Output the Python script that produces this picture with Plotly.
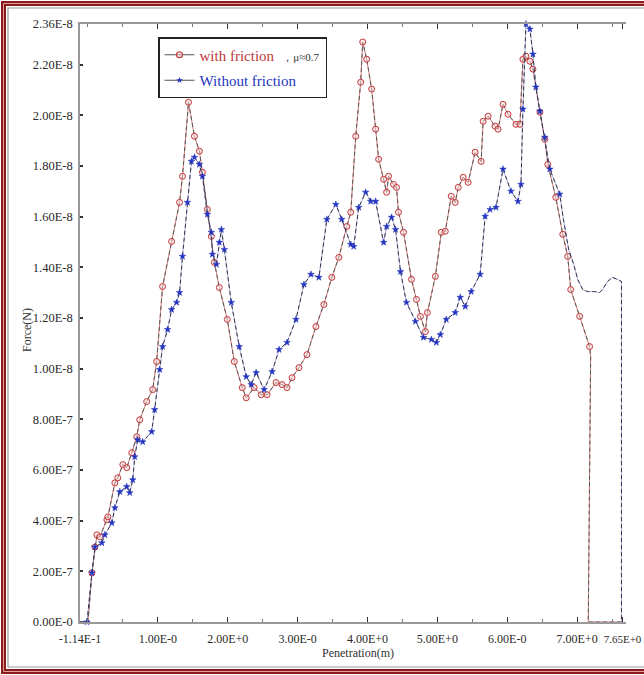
import plotly.graph_objects as go

# Penetration (m)
fric_x = [-0.114, 0.000, 0.057, 0.100, 0.128, 0.171, 0.271, 0.285, 0.385, 0.427, 0.499, 0.555, 0.627,
          0.698, 0.741, 0.840, 0.926, 0.983, 1.068, 1.197, 1.311, 1.353, 1.439, 1.524, 1.595, 1.638,
          1.709, 1.766, 1.809, 1.880, 1.994, 2.094, 2.208, 2.265, 2.379, 2.479, 2.564, 2.692, 2.778,
          2.849, 2.920, 3.020, 3.134, 3.262, 3.376, 3.490, 3.590, 3.704, 3.761, 3.832, 3.903, 3.932,
          3.989, 4.060, 4.117, 4.160, 4.231, 4.274, 4.302, 4.373, 4.416, 4.444, 4.516, 4.630, 4.701,
          4.758, 4.829, 4.858, 4.972, 5.057, 5.114, 5.199, 5.256, 5.299, 5.370, 5.441, 5.541, 5.627,
          5.655, 5.727, 5.826, 5.869, 5.940, 6.011, 6.125, 6.182, 6.225, 6.268, 6.325, 6.368, 6.468,
          6.538, 6.581, 6.695, 6.795, 6.866, 6.909, 7.037, 7.179, 7.194, 7.160, 7.650]
# Force (x1E-9 N)
fric_y = [0, 0, 1.94, 2.96, 3.44, 3.36, 4.03, 4.15, 5.49, 5.69, 6.21, 6.09, 6.68,
          7.31, 7.98, 8.70, 9.17, 10.28, 13.24, 15.02, 16.56, 17.59, 20.51, 19.17, 18.58, 17.75,
          16.28, 15.22, 14.19, 13.20, 11.94, 10.28, 9.25, 8.85, 9.25, 8.97, 8.97, 9.45, 9.37,
          9.25, 9.64, 10.04, 10.55, 11.66, 12.53, 13.60, 14.39, 15.61, 16.17, 19.17, 21.30, 22.89,
          22.21, 21.03, 19.45, 18.26, 17.47, 16.96, 17.59, 17.27, 17.15, 16.17, 15.38, 13.52, 12.73,
          12.06, 11.46, 12.21, 13.64, 15.38, 15.42, 16.80, 16.56, 17.15, 17.55, 17.35, 18.54, 18.18,
          19.76, 19.96, 19.57, 19.45, 20.43, 20.04, 19.64, 19.64, 22.21, 22.33, 22.13, 21.82, 20.12,
          19.05, 18.06, 16.76, 15.30, 14.43, 13.12, 12.06, 10.87, 10.47, 0, 0]

nofric_x = [-0.114, -0.014, 0.057, 0.100, 0.199, 0.242, 0.342, 0.385, 0.456, 0.555, 0.598, 0.641,
            0.669, 0.712, 0.783, 0.912, 0.954, 1.026, 1.068, 1.140, 1.197, 1.268, 1.311, 1.353,
            1.424, 1.481, 1.524, 1.595, 1.638, 1.709, 1.766, 1.781, 1.838, 1.880, 1.909, 1.952,
            2.051, 2.165, 2.265, 2.336, 2.407, 2.521, 2.635, 2.735, 2.849, 2.977, 3.091, 3.191,
            3.305, 3.419, 3.547, 3.632, 3.761, 3.803, 3.875, 3.974, 4.046, 4.117, 4.231, 4.274,
            4.345, 4.402, 4.473, 4.558, 4.687, 4.801, 4.915, 4.986, 5.043, 5.128, 5.256, 5.328,
            5.399, 5.484, 5.613, 5.684, 5.755, 5.840, 5.940, 6.054, 6.154, 6.197, 6.225, 6.268,
            6.325, 6.368, 6.410, 6.467, 6.538, 6.610, 6.752, 6.809, 6.880, 6.952, 7.009, 7.080,
            7.151, 7.251, 7.322, 7.365, 7.436, 7.507, 7.578, 7.635, 7.635]
nofric_y = [0, 0, 1.94, 2.96, 3.12, 3.44, 3.91, 4.51, 5.14, 5.34, 5.10, 5.61,
            6.52, 7.19, 7.11, 7.51, 8.38, 9.96, 10.87, 11.54, 12.33, 12.61, 13.00, 14.43,
            16.56, 18.18, 18.34, 18.06, 17.59, 16.09, 15.38, 14.51, 14.11, 14.98, 15.49, 14.70,
            12.61, 10.87, 9.68, 9.37, 9.84, 9.17, 9.88, 10.75, 11.03, 11.94, 13.32, 13.72,
            13.60, 15.89, 16.48, 15.89, 14.90, 14.82, 16.36, 16.96, 16.60, 16.60, 14.98, 15.61,
            15.97, 15.49, 13.83, 12.61, 11.86, 11.23, 11.15, 11.03, 11.34, 11.94, 12.21, 12.81,
            12.45, 13.04, 13.72, 16.01, 16.28, 16.36, 17.87, 17.00, 16.60, 17.27, 20.24, 23.60,
            23.40, 22.41, 21.11, 20.16, 19.13, 17.87, 16.88, 15.81, 14.70, 14.11, 13.52, 13.12,
            13.04, 13.04, 13.00, 13.12, 13.44, 13.60, 13.52, 13.44, 0]

x_tickvals = [-0.114, 1, 2, 3, 4, 5, 6, 7, 7.65]
x_ticktext = ["-1.14E-1", "1.00E-0", "2.00E+0", "3.00E-0", "4.00E+0", "5.00E+0", "6.00E-0",
              "7.00E+0", "<span style='font-size:11px'>7.65E+0</span>"]
y_tickvals = [0, 2, 4, 6, 8, 10, 12, 14, 16, 18, 20, 22, 23.6]
y_ticktext = ["0.00E-0", "2.00E-7", "4.00E-7", "6.00E-7", "8.00E-7", "1.00E-8", "1.20E-8",
              "1.40E-8", "1.60E-8", "1.80E-8", "2.00E-8", "2.20E-8", "2.36E-8"]

W, H = 644, 675
L, R, T, B = 80, 18, 24, 53
PW, PH = W - L - R, H - T - B


def px(xp):
    return (xp - L) / PW


def py(yp):
    return (H - B - yp) / PH


SERIF = "Liberation Serif, Times New Roman, serif"
RED = "#c0393b"
BLUE = "#2233c0"

fig = go.Figure()

# with friction
fig.add_trace(go.Scatter(x=fric_x, y=fric_y, mode="lines", showlegend=False,
                         line=dict(color="rgba(200,90,90,0.8)", width=1), cliponaxis=False))
fig.add_trace(go.Scatter(x=fric_x, y=fric_y, mode="lines", showlegend=False,
                         line=dict(color="#555555", width=1, dash="4px,3px"), cliponaxis=False))
fig.add_trace(go.Scatter(x=fric_x[2:-3], y=fric_y[2:-3], mode="markers", showlegend=False,
                         marker=dict(symbol="circle", size=6, color="rgba(245,210,210,0.5)",
                                     line=dict(color=RED, width=1)), cliponaxis=False))
# without friction
fig.add_trace(go.Scatter(x=nofric_x, y=nofric_y, mode="lines", showlegend=False,
                         line=dict(color="rgba(110,110,190,0.55)", width=1), cliponaxis=False))
fig.add_trace(go.Scatter(x=nofric_x, y=nofric_y, mode="lines", showlegend=False,
                         line=dict(color="#333344", width=1, dash="4px,3px"), cliponaxis=False))
fig.add_trace(go.Scatter(x=nofric_x[1:-14], y=nofric_y[1:-14], mode="markers", showlegend=False,
                         marker=dict(symbol="star", size=5, color=BLUE,
                                     line=dict(color=BLUE, width=0.5)), cliponaxis=False))

# legend entries
fig.add_trace(go.Scatter(x=[None], y=[None], mode="lines+markers", legendgroup="a",
                         name=f"<span style='color:{RED}'>with friction</span>"
                              "<span style='color:#333;font-size:11px'>   ，μ≈0.7</span>",
                         line=dict(color="#555555", width=1),
                         marker=dict(symbol="circle", size=6, color="rgba(245,205,205,0.6)",
                                     line=dict(color=RED, width=1.1))))
fig.add_trace(go.Scatter(x=[None], y=[None], mode="lines+markers", legendgroup="b",
                         name=f"<span style='color:{BLUE}'>Without friction</span>",
                         line=dict(color="#555555", width=1),
                         marker=dict(symbol="star", size=5, color=BLUE)))

ytickfont = dict(family=SERIF, size=12.5, color="#2a2a2a")
xtickfont = dict(family=SERIF, size=12, color="#2a2a2a")

fig.update_layout(
    width=W, height=H,
    margin=dict(l=L, r=R, t=T, b=B, autoexpand=False),
    paper_bgcolor="white", plot_bgcolor="white",
    xaxis=dict(range=[-0.114, 7.70], tickmode="array", tickvals=x_tickvals, ticktext=x_ticktext,
               ticks="inside", ticklen=5, tickcolor="#333", tickwidth=1, tickangle=0,
               ticklabeloverflow="allow",
               showline=True, linecolor="#999999", linewidth=1.5, mirror="ticks",
               showgrid=False, zeroline=False, tickfont=xtickfont, ticklabelstandoff=5,
               minor=dict(tickmode="linear", tick0=0, dtick=0.5, ticks="inside", ticklen=3,
                          tickcolor="#777")),
    yaxis=dict(range=[0, 23.6], tickmode="array", tickvals=y_tickvals, ticktext=y_ticktext,
               ticks="inside", ticklen=3, tickcolor="#333", tickwidth=1.5,
               ticklabeloverflow="allow",
               showline=True, linecolor="#999999", linewidth=1.5, mirror=False,
               showgrid=False, zeroline=False, tickfont=ytickfont, ticklabelstandoff=3),
    yaxis2=dict(range=[0, 23.6], overlaying="y", side="right", tickmode="array",
                tickvals=y_tickvals, ticks="inside", ticklen=3, tickcolor="#555",
                showticklabels=False, showline=False, showgrid=False, zeroline=False),
    legend=dict(x=px(158), y=py(37), xanchor="left", yanchor="top",
                bgcolor="white", bordercolor="#222", borderwidth=1.5,
                font=dict(family=SERIF, size=15), tracegroupgap=3, itemwidth=30,
                traceorder="grouped"),
    annotations=[
        dict(text="Force(N)", x=px(18), y=py(330), xref="paper", yref="paper",
             textangle=-90, showarrow=False, font=dict(family=SERIF, size=12, color="#333")),
        dict(text="Penetration(m)", x=px(358), y=py(662), xref="paper", yref="paper",
             showarrow=False, font=dict(family=SERIF, size=12, color="#333")),
    ],
    shapes=[
        dict(type="rect", xref="paper", yref="paper", x0=px(3.5), x1=px(900), y0=py(3.5), y1=py(671.5),
             line=dict(color="#8b1a1a", width=5), layer="above"),
        dict(type="rect", xref="paper", yref="paper", x0=px(3.5), x1=px(900), y0=py(3.5), y1=py(671.5),
             line=dict(color="#e0a0a0", width=1), layer="above"),
        dict(type="rect", xref="paper", yref="paper", x0=px(8), x1=px(900), y0=py(8), y1=py(667),
             line=dict(color="#9a9a9a", width=1.2), layer="above"),
    ],
)

fig.write_html("out.html")
